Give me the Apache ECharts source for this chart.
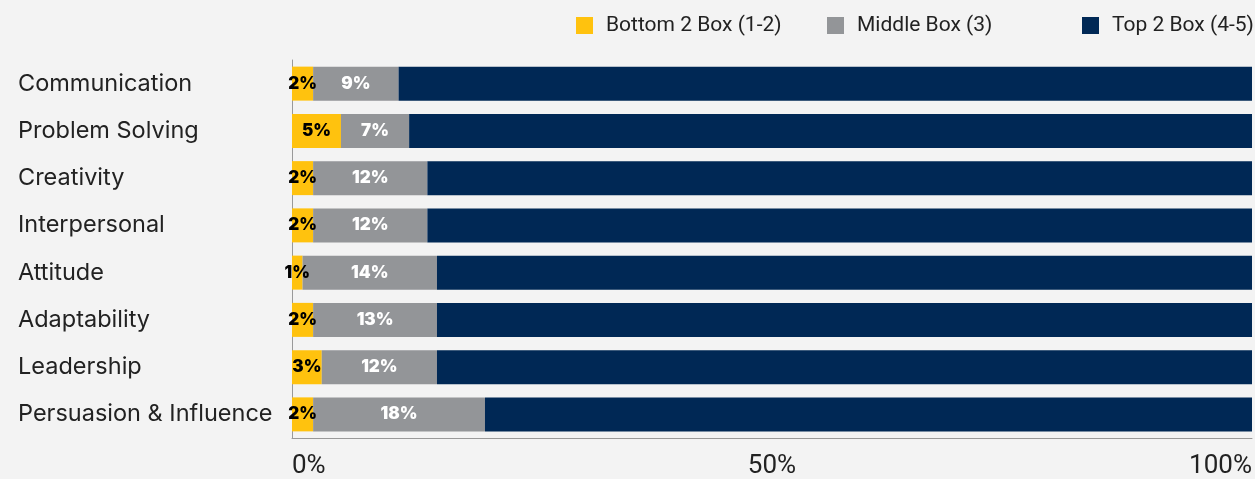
<!DOCTYPE html>
<html>
<head>
<meta charset="utf-8">
<script src="https://cdn.jsdelivr.net/npm/echarts@6/dist/echarts.min.js"></script>
<style>
  html, body { margin: 0; padding: 0; background: #f3f3f3; }
  #chart { width: 1255px; height: 479px; }
</style>
</head>
<body>
<div id="chart"></div>
<script>
// data (percent of respondents)
const categories = ['Communication', 'Problem Solving', 'Creativity', 'Interpersonal',
  'Attitude', 'Adaptability', 'Leadership', 'Persuasion & Influence']
const bottom2 = [2.2, 5.1, 2.2, 2.2, 1.1, 2.2, 3.1, 2.2]
const middle = [8.9, 7.1, 11.9, 11.9, 14.0, 12.9, 12.0, 17.9]
const top2 = bottom2.map((b, i) => 100 - b - middle[i])
const seriesNames = ['Bottom 2 Box (1-2)', 'Middle Box (3)', 'Top 2 Box (4-5)']
const xTicks = [0, 50, 100]

let myChart = echarts.init(document.getElementById('chart'))

const legendOne = (name, left) => ({
    data: [name],
    left: left,
    top: 10,
    itemWidth: 17,
    itemHeight: 17,
    icon: 'rect',
    textStyle: { fontFamily: 'Roboto', fontSize: 21, color: '#222', padding: [0, 0, 0, 8] }
})

const label = (color) => ({
    show: true,
    position: 'inside',
    fontFamily: 'Inter',
    fontWeight: 900,
    fontSize: 17,
    color: color,
    formatter: p => Math.round(p.value) + '%'
})

const options = {
    backgroundColor: '#f3f3f3',
    animation: false,
    legend: [
        legendOne(seriesNames[0], 571),
        legendOne(seriesNames[1], 822),
        legendOne(seriesNames[2], 1077)
    ],
    grid: {
        left: 292,
        right: 2,
        top: 60,
        bottom: 38
    },
    xAxis: {
        type: 'value',
        min: 0,
        max: 100,
        interval: 50,
        axisLine: { show: true, lineStyle: { color: '#999', width: 1 } },
        axisTick: { show: false },
        splitLine: { show: false },
        axisLabel: {
            margin: 15,
            fontFamily: 'Roboto',
            fontSize: 26,
            color: '#222',
            alignMinLabel: 'left',
            alignMaxLabel: 'right',
            formatter: v => xTicks.includes(v) ? v + '%' : ''
        }
    },
    yAxis: {
        type: 'category',
        inverse: true,
        data: categories,
        axisLine: { show: true, lineStyle: { color: '#999', width: 1 } },
        axisTick: { show: false },
        axisLabel: {
            align: 'left',
            margin: 274,
            padding: [0, 0, 6, 0],
            fontFamily: 'Inter',
            fontSize: 23.5,
            color: '#222'
        }
    },
    series: [
        {
            name: seriesNames[0],
            type: 'bar',
            stack: 'all',
            barWidth: 34,
            itemStyle: { color: '#ffc20e' },
            label: label('#000'),
            data: bottom2
        },
        {
            name: seriesNames[1],
            type: 'bar',
            stack: 'all',
            barWidth: 34,
            itemStyle: { color: '#939598' },
            label: label('#fff'),
            data: middle
        },
        {
            name: seriesNames[2],
            type: 'bar',
            stack: 'all',
            barWidth: 34,
            itemStyle: { color: '#002855' },
            data: top2
        }
    ]
}
myChart.setOption(options)
</script>
</body>
</html>
